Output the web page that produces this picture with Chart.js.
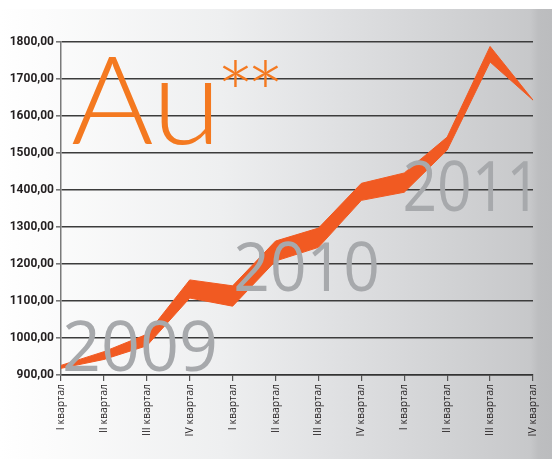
<!DOCTYPE html>
<html>
<head>
<meta charset="utf-8">
<script src="https://cdn.jsdelivr.net/npm/chart.js@4"></script>
<style>
  body { margin: 0; background: #fff; }
  #wrap { width: 552px; height: 459px; }
</style>
</head>
<body>
<div id="wrap"><canvas id="myChart"></canvas></div>
<script>
const quarters = [
  "I квартал", "II квартал", "III квартал", "IV квартал",
  "I квартал", "II квартал", "III квартал", "IV квартал",
  "I квартал", "II квартал", "III квартал", "IV квартал",
];
const bandTop = [926, 963, 1010, 1157, 1141, 1262, 1297, 1418, 1446, 1543, 1788, 1643];
const bandBottom = [918, 942, 979, 1108, 1086, 1208, 1245, 1372, 1394, 1508, 1746, 1643];
const yMin = 900;
const yMax = 1800;
const yStep = 100;
const years = ["2009", "2010", "2011"];

const orange = "#f15a22";

// gradient backdrop behind everything
const backdrop = {
  id: "backdrop",
  beforeDraw(chart) {
    const c = chart.ctx;
    const w = chart.width, h = chart.height;
    c.save();
    c.fillStyle = "#fff";
    c.fillRect(0, 0, w, h);
    const g = c.createLinearGradient(0, 0, w, 0);
    g.addColorStop(0, "#ffffff");
    g.addColorStop(0.08, "#fcfcfc");
    g.addColorStop(0.4, "#eeeff0");
    g.addColorStop(0.6, "#e0e1e3");
    g.addColorStop(0.96, "#c7c8ca");
    g.addColorStop(0.975, "#bdbec0");
    g.addColorStop(1, "#bbbcbe");
    c.fillStyle = g;
    c.fillRect(0, 9, w, h - 9);
    c.restore();
  },
};

// draw text stretched into a box (left, top, right, bottom)
function fitText(c, text, font, box) {
  c.save();
  c.font = font;
  const m = c.measureText(text);
  const w = m.actualBoundingBoxLeft + m.actualBoundingBoxRight;
  const h = m.actualBoundingBoxAscent + m.actualBoundingBoxDescent;
  const sx = (box[2] - box[0]) / w;
  const sy = (box[3] - box[1]) / h;
  c.translate(box[0], box[1]);
  c.scale(sx, sy);
  c.fillText(text, m.actualBoundingBoxLeft, m.actualBoundingBoxAscent);
  c.restore();
}

// big labels: Au** and the years
const labels = {
  id: "labels",
  afterDatasetsDraw(chart) {
    const c = chart.ctx;
    c.save();
    c.textBaseline = "alphabetic";
    c.textAlign = "left";
    c.fillStyle = "#f47920";
    fitText(c, "Au", "300 122px Lato", [72, 57, 212, 145]);
    fitText(c, "*", "300 120px Lato", [222, 60, 248, 87]);
    fitText(c, "*", "300 120px Lato", [252, 60, 278, 87]);

    c.fillStyle = "#a7a9ac";
    fitText(c, years[0], "70px 'Open Sans'", [65, 320, 215, 372]);
    fitText(c, years[1], "70px 'Open Sans'", [236, 242, 377, 292]);
    fitText(c, years[2], "70px 'Open Sans'", [405, 160, 528, 212]);
    c.restore();
  },
};

const ctx = document.getElementById("myChart");
new Chart(ctx, {
  type: "line",
  data: {
    labels: quarters,
    datasets: [
      {
        data: bandTop,
        borderColor: orange,
        backgroundColor: orange,
        borderWidth: 1,
        pointRadius: 0,
        tension: 0,
        fill: "+1",
      },
      {
        data: bandBottom,
        borderColor: orange,
        backgroundColor: orange,
        borderWidth: 1,
        pointRadius: 0,
        tension: 0,
        fill: false,
      },
    ],
  },
  options: {
    responsive: true,
    maintainAspectRatio: false,
    animation: false,
    layout: {
      padding: { top: 42, right: 19, left: 0, bottom: 0 },
    },
    plugins: {
      legend: { display: false },
      tooltip: { enabled: false },
    },
    scales: {
      x: {
        offset: false,
        afterFit(scale) {
          scale.height = 84;
        },
        grid: {
          drawOnChartArea: false,
          drawTicks: true,
          tickLength: 6,
          color: "#555",
          lineWidth: 1.2,
        },
        border: { color: "#333", width: 1.5 },
        ticks: {
          minRotation: 90,
          maxRotation: 90,
          autoSkip: false,
          padding: 3,
          color: "#231f20",
          font: { family: "'Open Sans'", size: 10.5 },
        },
      },
      y: {
        min: yMin,
        max: yMax,
        afterFit(scale) {
          scale.width = 61;
        },
        grid: {
          color: "#3c3c3c",
          lineWidth: 1.6,
          tickLength: 5,
          tickColor: "#777",
        },
        border: { color: "#7a7a7a", width: 1.5 },
        ticks: {
          stepSize: yStep,
          padding: 2,
          color: "#231f20",
          font: { family: "Roboto", size: 12, weight: "bold" },
          callback: (v) => v.toFixed(2).replace(".", ","),
        },
      },
    },
  },
  plugins: [backdrop, labels],
});
</script>
</body>
</html>
